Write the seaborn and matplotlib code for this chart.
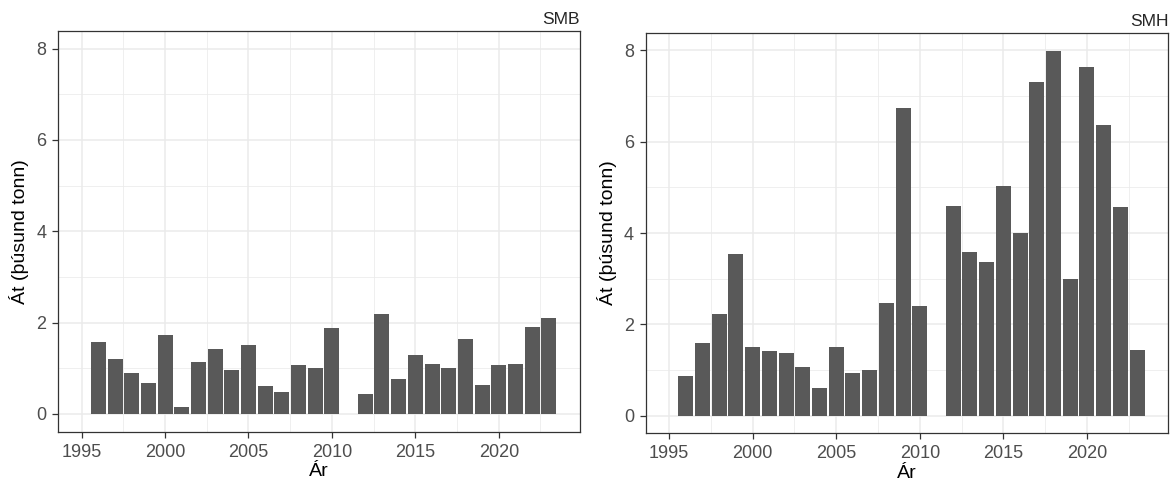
import numpy as np
import pandas as pd
import matplotlib
matplotlib.use("Agg")
import matplotlib.pyplot as plt
import seaborn as sns
from matplotlib.ticker import MultipleLocator

# ---- data ----
years = [1996, 1997, 1998, 1999, 2000, 2001, 2002, 2003, 2004, 2005, 2006, 2007,
         2008, 2009, 2010, 2012, 2013, 2014, 2015, 2016, 2017, 2018, 2019, 2020,
         2021, 2022, 2023]
smb = [1.58, 1.21, 0.90, 0.68, 1.73, 0.15, 1.13, 1.42, 0.96, 1.50, 0.61, 0.47,
       1.07, 1.01, 1.88, 0.44, 2.18, 0.76, 1.28, 1.09, 1.01, 1.64, 0.64, 1.07,
       1.09, 1.90, 2.09]
smh = [0.875, 1.60, 2.23, 3.54, 1.50, 1.41, 1.38, 1.06, 0.61, 1.50, 0.93, 1.00,
       2.47, 6.75, 2.41, 4.60, 3.58, 3.36, 5.03, 4.01, 7.30, 7.99, 3.00, 7.64,
       6.37, 4.58, 1.44]
panels = ["SMB", "SMH"]
xticks = [1995, 2000, 2005, 2010, 2015, 2020]
yticks = [0, 2, 4, 6, 8]
xlabel = "Ár"
ylabel = "Át (þúsund tonn)"

sns.set_style("white")
plt.rcParams['font.family'] = ['Liberation Sans', 'DejaVu Sans']

fig = plt.figure(figsize=(11.73, 4.83), dpi=100)
positions = [
    [58.3 / 1173, 1 - 431.7 / 483, (580 - 58.3) / 1173, (431.7 - 30.7) / 483],
    [645.7 / 1173, 1 - 433.3 / 483, (1168.3 - 645.7) / 1173, (433.3 - 32.7) / 483],
]
series = [smb, smh]

for pos, vals, name in zip(positions, series, panels):
    ax = fig.add_axes(pos)
    df = pd.DataFrame({"year": years, "val": vals})
    sns.barplot(data=df, x="year", y="val", native_scale=True, width=0.9,
                color="#595959", saturation=1, linewidth=0, ax=ax, zorder=3)
    ax.set_xlim(1993.6, 2024.87)
    ax.set_ylim(-0.39, 8.39)
    ax.set_xticks(xticks)
    ax.set_xticklabels([str(t) for t in xticks])
    ax.set_yticks(yticks)
    ax.xaxis.set_minor_locator(MultipleLocator(2.5))
    ax.yaxis.set_minor_locator(MultipleLocator(1))
    ax.set_axisbelow(True)
    ax.grid(which="major", color="#EBEBEB", linewidth=1.1)
    ax.grid(which="minor", color="#EBEBEB", linewidth=0.55)
    for s in ax.spines.values():
        s.set_visible(True)
        s.set_color("#333333")
        s.set_linewidth(0.9)
    ax.tick_params(which="major", direction="out", length=4.5, width=0.9,
                   color="#333333", labelcolor="#4D4D4D", labelsize=13, pad=4.0,
                   bottom=True, left=True)
    ax.tick_params(which="minor", length=0)
    ax.set_xlabel(xlabel, fontsize=14, color="black", labelpad=2)
    ax.set_ylabel(ylabel, fontsize=14, color="black", labelpad=5)
    ax.set_title(name, loc="right", fontsize=12.5, pad=5)

fig.savefig("out.png", dpi=100)
